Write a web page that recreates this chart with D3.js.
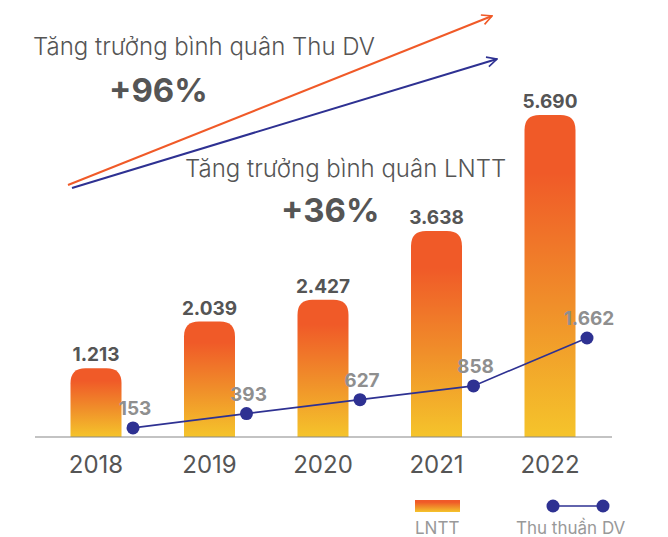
<!DOCTYPE html>
<html>
<head>
<meta charset="utf-8">
<script src="https://cdn.jsdelivr.net/npm/d3@7"></script>
<style>
  body { margin: 0; background: #fff; }
  svg { display: block; font-family: Inter, "Noto Sans", sans-serif; }
</style>
</head>
<body>
<div id="chart-container"></div>
<script>
const years = ["2018", "2019", "2020", "2021", "2022"];
const lntt = [1213, 2039, 2427, 3638, 5690];
const thuDV = [153, 393, 627, 858, 1662];
const lnttLabels = ["1.213", "2.039", "2.427", "3.638", "5.690"];
const thuLabels = ["153", "393", "627", "858", "1.662"];

const width = 668, height = 537;
const baseY = 437;

const svg = d3.select("#chart-container").append("svg")
    .attr("width", width)
    .attr("height", height);

const defs = svg.append("defs");
const grad = defs.append("linearGradient")
    .attr("id", "barGrad")
    .attr("x1", 0).attr("y1", 0).attr("x2", 0).attr("y2", 1);
grad.append("stop").attr("offset", "0%").attr("stop-color", "#f05a28");
grad.append("stop").attr("offset", "18%").attr("stop-color", "#f05a28");
grad.append("stop").attr("offset", "60%").attr("stop-color", "#f0902a");
grad.append("stop").attr("offset", "100%").attr("stop-color", "#f5c42b");

const marker = (id, color) => {
    defs.append("marker")
        .attr("id", id)
        .attr("viewBox", "0 0 12 12")
        .attr("refX", 11).attr("refY", 6)
        .attr("markerWidth", 12).attr("markerHeight", 12)
        .attr("markerUnits", "userSpaceOnUse")
        .attr("orient", "auto")
        .append("path")
        .attr("d", "M1,1 L11,6 L1,11")
        .attr("fill", "none")
        .attr("stroke", color)
        .attr("stroke-width", 1.6);
};
marker("arrOrange", "#f05a28");
marker("arrBlue", "#2e3192");

const x = d3.scalePoint()
    .domain(years)
    .range([96, 550]);

const y = d3.scaleLinear()
    .domain([0, 5690])
    .range([baseY, 115]);

const y2 = d3.scaleLinear()
    .domain([0, 1662])
    .range([baseY, 338]);

const barW = 51, r = 15, lineOffset = 37;

const data = years.map((d, i) => ({ year: d, v: lntt[i], t: thuDV[i], lv: lnttLabels[i], lt: thuLabels[i] }));

// arrows
svg.append("line")
    .attr("x1", 68).attr("y1", 185).attr("x2", 492).attr("y2", 16)
    .attr("stroke", "#f05a28").attr("stroke-width", 2)
    .attr("marker-end", "url(#arrOrange)");
svg.append("line")
    .attr("x1", 72).attr("y1", 188).attr("x2", 497).attr("y2", 59)
    .attr("stroke", "#2e3192").attr("stroke-width", 2)
    .attr("marker-end", "url(#arrBlue)");

// bars with rounded tops
svg.selectAll(".bar")
    .data(data)
    .enter().append("path")
    .attr("class", "bar")
    .attr("fill", "url(#barGrad)")
    .attr("d", d => {
        const x0 = x(d.year) - barW / 2, x1 = x(d.year) + barW / 2;
        const top = y(d.v), bot = y(0);
        return `M${x0},${bot} L${x0},${top + r} Q${x0},${top} ${x0 + r},${top} L${x1 - r},${top} Q${x1},${top} ${x1},${top + r} L${x1},${bot} Z`;
    });

svg.selectAll(".bar-label")
    .data(data)
    .enter().append("text")
    .attr("x", d => x(d.year))
    .attr("y", d => y(d.v) - 7)
    .attr("text-anchor", "middle")
    .style("font-size", "19px")
    .style("font-weight", "700")
    .style("fill", "#555")
    .text(d => d.lv);

// axis
svg.append("line")
    .attr("x1", 35).attr("x2", 612)
    .attr("y1", baseY).attr("y2", baseY)
    .attr("stroke", "#888").attr("stroke-width", 1.2);

svg.selectAll(".year")
    .data(years)
    .enter().append("text")
    .attr("x", d => x(d))
    .attr("y", 473)
    .attr("text-anchor", "middle")
    .style("font-size", "24px")
    .style("fill", "#555")
    .text(d => d);

// line
const line = d3.line()
    .x(d => x(d.year) + lineOffset)
    .y(d => y2(d.t));

svg.append("path")
    .datum(data)
    .attr("d", line)
    .attr("fill", "none")
    .attr("stroke", "#2e3192")
    .attr("stroke-width", 1.6);

svg.selectAll(".dot")
    .data(data)
    .enter().append("circle")
    .attr("cx", d => x(d.year) + lineOffset)
    .attr("cy", d => y2(d.t))
    .attr("r", 6.5)
    .attr("fill", "#2e3192");

svg.selectAll(".dot-label")
    .data(data)
    .enter().append("text")
    .attr("x", d => x(d.year) + lineOffset + 2)
    .attr("y", d => y2(d.t) - 13)
    .attr("text-anchor", "middle")
    .style("font-size", "19px")
    .style("font-weight", "700")
    .style("fill", "#8f8f8f")
    .text(d => d.lt);

// annotations
svg.append("text")
    .attr("x", 33).attr("y", 55)
    .style("font-size", "24px")
    .style("font-weight", "300")
    .style("fill", "#555")
    .text("Tăng trưởng bình quân Thu DV");
svg.append("text")
    .attr("x", 109).attr("y", 102)
    .style("font-size", "33px")
    .style("font-weight", "700")
    .style("fill", "#555")
    .text("+96%");
svg.append("text")
    .attr("x", 185).attr("y", 177)
    .style("font-size", "24px")
    .style("font-weight", "300")
    .style("fill", "#555")
    .text("Tăng trưởng bình quân LNTT");
svg.append("text")
    .attr("x", 281).attr("y", 222)
    .style("font-size", "33px")
    .style("font-weight", "700")
    .style("fill", "#555")
    .text("+36%");

// legend
const legend = svg.append("g");
legend.append("rect")
    .attr("x", 415).attr("y", 500)
    .attr("width", 45).attr("height", 12)
    .attr("fill", "url(#barGrad)");
legend.append("text")
    .attr("x", 415).attr("y", 534)
    .style("font-size", "17px")
    .style("fill", "#999")
    .text("LNTT");
legend.append("line")
    .attr("x1", 553).attr("x2", 603)
    .attr("y1", 506).attr("y2", 506)
    .attr("stroke", "#2e3192").attr("stroke-width", 1.6);
legend.selectAll("circle")
    .data([553, 603])
    .enter().append("circle")
    .attr("cx", d => d).attr("cy", 506)
    .attr("r", 6.5)
    .attr("fill", "#2e3192");
legend.append("text")
    .attr("x", 516).attr("y", 534)
    .style("font-size", "17px")
    .style("fill", "#999")
    .text("Thu thuần DV");
</script>
</body>
</html>
